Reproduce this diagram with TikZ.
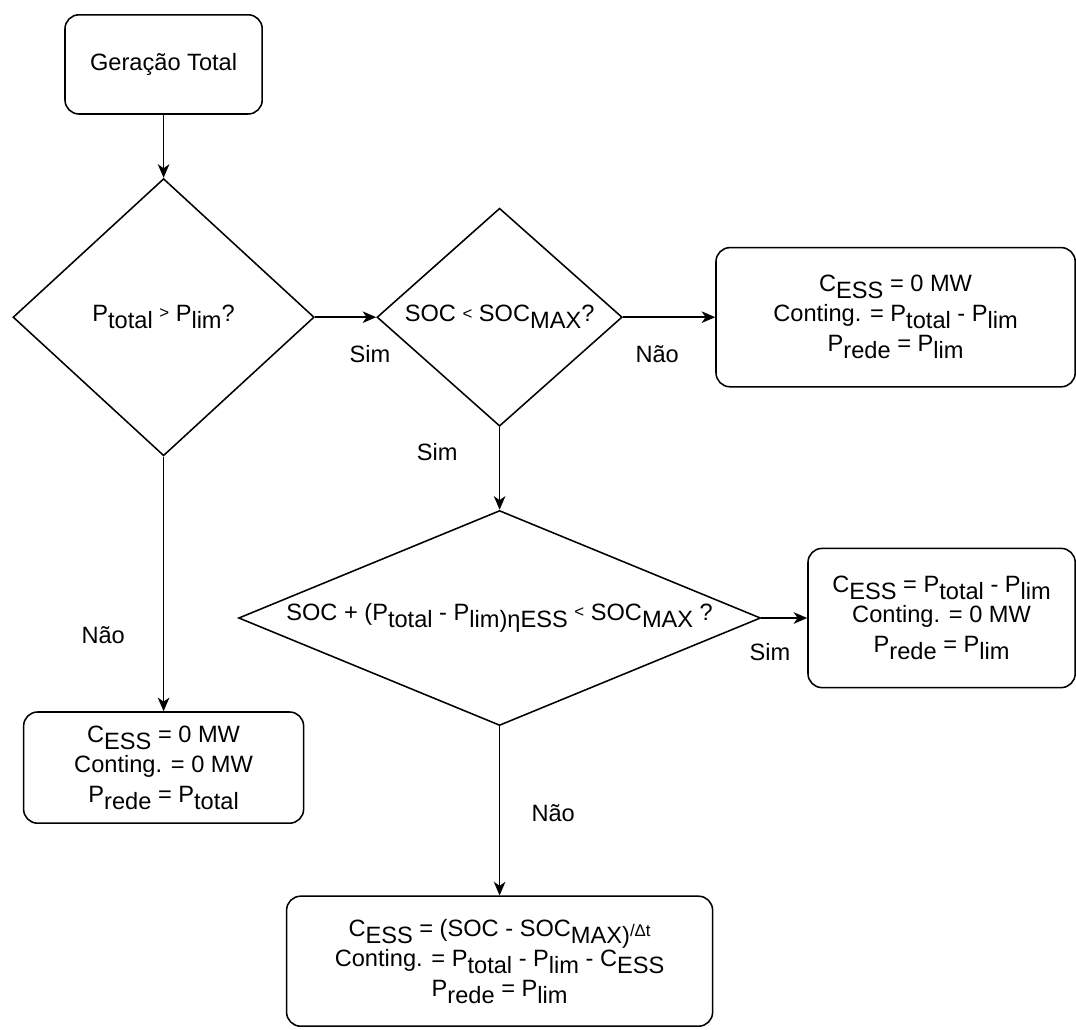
\documentclass[tikz,border=0pt]{standalone}
\usepackage{fontspec}
\setmainfont{Liberation Sans}
\usepackage{tikz}
\usetikzlibrary{arrows.meta}
\usetikzlibrary{shapes.geometric}
\tikzset{>={Stealth[length=3.4mm,width=2.9mm,inset=1mm]}}
\newcommand{\sbs}[1]{\raisebox{-0.3em}{#1}}
\newcommand{\menor}{\raisebox{0.12em}{\fontsize{12}{12}\selectfont <}}
\newcommand{\maior}{\raisebox{0.12em}{\fontsize{12}{12}\selectfont >}}

\begin{document}
\begin{tikzpicture}[font=\fontsize{16.8}{21.3}\selectfont,line width=1.1pt,
	caixa/.style={draw,rounded corners=3.5mm,align=center,inner sep=0pt},
	decisao/.style={draw,diamond,inner sep=0pt},
	rotulo/.style={inner sep=0pt}]
	\path[fill=white] (0,0) rectangle (26.9,-25.75);
	\useasboundingbox (0,0) rectangle (26.9,-25.75);
	\node[caixa,minimum width=4.93cm,minimum height=2.48cm] (geracao) at (4.09,-1.61) {Geração Total};
	\node[decisao,minimum width=7.53cm,minimum height=6.93cm,label={center:{P\sbs{total} \maior{} P\sbs{lim}?}}] (ptotal) at (4.09,-7.93) {};
	\node[decisao,minimum width=6.13cm,minimum height=5.45cm,label={center:{SOC \menor{} SOC\sbs{MAX}?}}] (soc) at (12.49,-7.93) {};
	\node[decisao,minimum width=13.05cm,minimum height=5.375cm,label={center:{SOC + (P\sbs{total} - P\sbs{lim)}\sbs{ηESS} \menor{} SOC\sbs{MAX} ?}}] (socmax) at (12.49,-15.45) {};
	\node[caixa,minimum width=8.98cm,minimum height=3.48cm] (cheio) at (22.39,-7.93) {C\sbs{ESS} = 0 MW\\Conting. = P\sbs{total} - P\sbs{lim}\\P\sbs{rede} = P\sbs{lim}};
	\node[caixa,minimum width=6.68cm,minimum height=3.48cm] (carrega) at (23.54,-15.45) {C\sbs{ESS} = P\sbs{total} - P\sbs{lim}\\Conting. = 0 MW\\P\sbs{rede} = P\sbs{lim}};
	\node[caixa,minimum width=7.0cm,minimum height=2.78cm] (abaixo) at (4.09,-19.19) {C\sbs{ESS} = 0 MW\\Conting. = 0 MW\\P\sbs{rede} = P\sbs{total}};
	\node[caixa,minimum width=10.65cm,minimum height=3.25cm] (parcial) at (12.49,-24.03) {C\sbs{ESS} = (SOC - SOC\sbs{MAX)}{\fontsize{12}{12}\selectfont/Δt}\\Conting. = P\sbs{total} - P\sbs{lim} - C\sbs{ESS}\\P\sbs{rede} = P\sbs{lim}};
	\node[rotulo] (sim1) at (9.25,-8.85) {Sim};
	\node[rotulo] (nao1) at (16.43,-8.85) {Não};
	\node[rotulo] (sim2) at (10.93,-11.3) {Sim};
	\node[rotulo] (nao2) at (2.58,-15.88) {Não};
	\node[rotulo] (sim3) at (19.25,-16.3) {Sim};
	\node[rotulo] (nao3) at (13.83,-20.33) {Não};
	\draw[->] (geracao)--(ptotal);
	\draw[->] (ptotal.east)--(soc.west);
	\draw[->] (soc.east)--(cheio.west);
	\draw[->] (soc.south)--(socmax.north);
	\draw[->] (ptotal.south)--(abaixo.north);
	\draw[->] (socmax.east)--(carrega.west);
	\draw[->] (socmax.south)--(parcial.north);
\end{tikzpicture}
\end{document}
